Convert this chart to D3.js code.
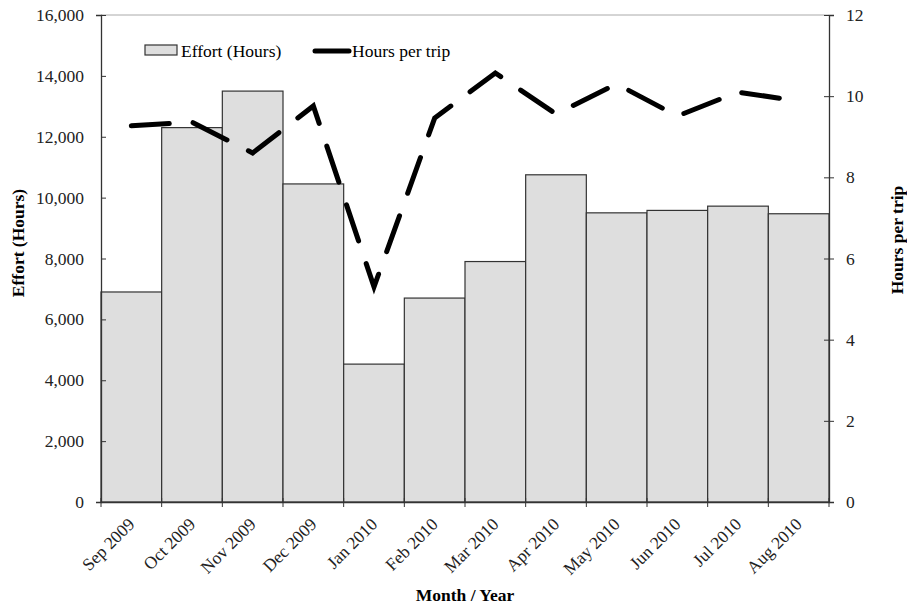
<!DOCTYPE html>
<html>
<head>
<meta charset="utf-8">
<script src="https://cdn.jsdelivr.net/npm/d3@7/dist/d3.min.js"></script>
<style>
  body { margin: 0; background: #fff; }
  svg, svg text { font-family: "Liberation Serif", "Times New Roman", serif; }
  svg { display: block; }
</style>
</head>
<body>
<div id="chart"></div>
<script>
// Monthly effort (bars, left axis) and hours per trip (dashed line, right axis)
const months = ['Sep 2009', 'Oct 2009', 'Nov 2009', 'Dec 2009', 'Jan 2010', 'Feb 2010',
  'Mar 2010', 'Apr 2010', 'May 2010', 'Jun 2010', 'Jul 2010', 'Aug 2010'];
const effortHours = [6900, 12300, 13500, 10450, 4530, 6700, 7900, 10750, 9500, 9580, 9720, 9470];
const hoursPerTrip = [9.27, 9.36, 8.6, 9.76, 5.3, 9.46, 10.57, 9.56, 10.3, 9.51, 10.1, 9.88];
const leftTicks = [0, 2000, 4000, 6000, 8000, 10000, 12000, 14000, 16000];
const rightTicks = [0, 2, 4, 6, 8, 10, 12];

const width = 907, height = 608;
const margin = { top: 15, right: 78, bottom: 106, left: 101 };
const innerW = width - margin.left - margin.right;
const innerH = height - margin.top - margin.bottom;

const svg = d3.select('#chart')
  .append('svg')
  .attr('width', width)
  .attr('height', height);

const g = svg.append('g')
  .attr('transform', `translate(${margin.left},${margin.top})`);

const x = d3.scaleBand().domain(months).range([0, innerW]).padding(0);
const yLeft = d3.scaleLinear().domain([0, 16000]).range([innerH, 0]);
const yRight = d3.scaleLinear().domain([0, 12]).range([innerH, 0]);

// top border
g.append('line')
  .attr('x1', 0).attr('x2', innerW)
  .attr('y1', 0).attr('y2', 0)
  .attr('stroke', '#aaa')
  .attr('stroke-width', 1);

// bars
g.selectAll('.bar')
  .data(months)
  .enter()
  .append('rect')
  .attr('class', 'bar')
  .attr('x', d => x(d))
  .attr('width', x.bandwidth())
  .attr('y', (d, i) => yLeft(effortHours[i]))
  .attr('height', (d, i) => innerH - yLeft(effortHours[i]))
  .attr('fill', '#dedede')
  .attr('stroke', '#333')
  .attr('stroke-width', 1.2);

// dashed line
const line = d3.line()
  .x((d, i) => x(months[i]) + x.bandwidth() / 2)
  .y(d => yRight(d));

g.append('path')
  .datum(hoursPerTrip)
  .attr('d', line)
  .attr('fill', 'none')
  .attr('stroke', '#000')
  .attr('stroke-width', 5)
  .attr('stroke-linecap', 'round')
  .attr('stroke-dasharray', '38 24');

const fontSize = '17.5px';
const serif = '"Liberation Serif", "Times New Roman", serif';

// left axis
const leftAxis = g.append('g')
  .call(d3.axisLeft(yLeft).tickValues(leftTicks).tickFormat(d3.format(',')).tickSize(5).tickPadding(12));
leftAxis.selectAll('.tick line').attr('x2', 5);

// right axis
const rightAxis = g.append('g')
  .attr('transform', `translate(${innerW},0)`)
  .call(d3.axisRight(yRight).tickValues(rightTicks).tickSize(5).tickPadding(12));
rightAxis.selectAll('.tick line').attr('x2', 5).attr('x1', -5);

// bottom axis, ticks at band edges
const xAxis = g.append('g')
  .attr('transform', `translate(0,${innerH})`)
  .call(d3.axisBottom(x).tickSize(0).tickFormat(''));

const edges = months.map(d => x(d)).concat([innerW]);
xAxis.selectAll('.edge')
  .data(edges)
  .enter()
  .append('line')
  .attr('class', 'edge')
  .attr('x1', d => d).attr('x2', d => d)
  .attr('y1', -4).attr('y2', 5)
  .attr('stroke', '#333');

xAxis.selectAll('.mlabel')
  .data(months)
  .enter()
  .append('text')
  .attr('class', 'mlabel')
  .attr('transform', d => `translate(${x(d) + x.bandwidth() / 2},${19}) rotate(-45)`)
  .attr('text-anchor', 'end')
  .attr('dy', '0.35em')
  .text(d => d);

[leftAxis, rightAxis, xAxis].forEach(a => {
  a.attr('font-family', serif).attr('font-size', fontSize);
  a.selectAll('text').attr('fill', '#222');
  a.select('.domain').attr('stroke', '#333').attr('stroke-width', 1.3);
  a.selectAll('.tick line').attr('stroke', '#333');
});

// axis titles
svg.append('text')
  .attr('transform', 'translate(24,243) rotate(-90)')
  .attr('text-anchor', 'middle')
  .style('font-size', fontSize)
  .style('font-weight', 'bold')
  .text('Effort (Hours)');

svg.append('text')
  .attr('transform', 'translate(903,240) rotate(-90)')
  .attr('text-anchor', 'middle')
  .style('font-size', fontSize)
  .style('font-weight', 'bold')
  .text('Hours per trip');

svg.append('text')
  .attr('x', margin.left + innerW / 2)
  .attr('y', 601)
  .attr('text-anchor', 'middle')
  .style('font-size', fontSize)
  .style('font-weight', 'bold')
  .text('Month / Year');

// legend
const legend = svg.append('g');
legend.append('rect')
  .attr('x', 145).attr('y', 45)
  .attr('width', 32).attr('height', 10)
  .attr('fill', '#dedede')
  .attr('stroke', '#333')
  .attr('stroke-width', 1.2);
legend.append('text')
  .attr('x', 181).attr('y', 57)
  .style('font-size', fontSize)
  .text('Effort (Hours)');
legend.append('line')
  .attr('x1', 315).attr('x2', 349)
  .attr('y1', 51).attr('y2', 51)
  .attr('stroke', '#000')
  .attr('stroke-width', 5)
  .attr('stroke-linecap', 'round');
legend.append('text')
  .attr('x', 352).attr('y', 57)
  .style('font-size', fontSize)
  .text('Hours per trip');
</script>
</body>
</html>
